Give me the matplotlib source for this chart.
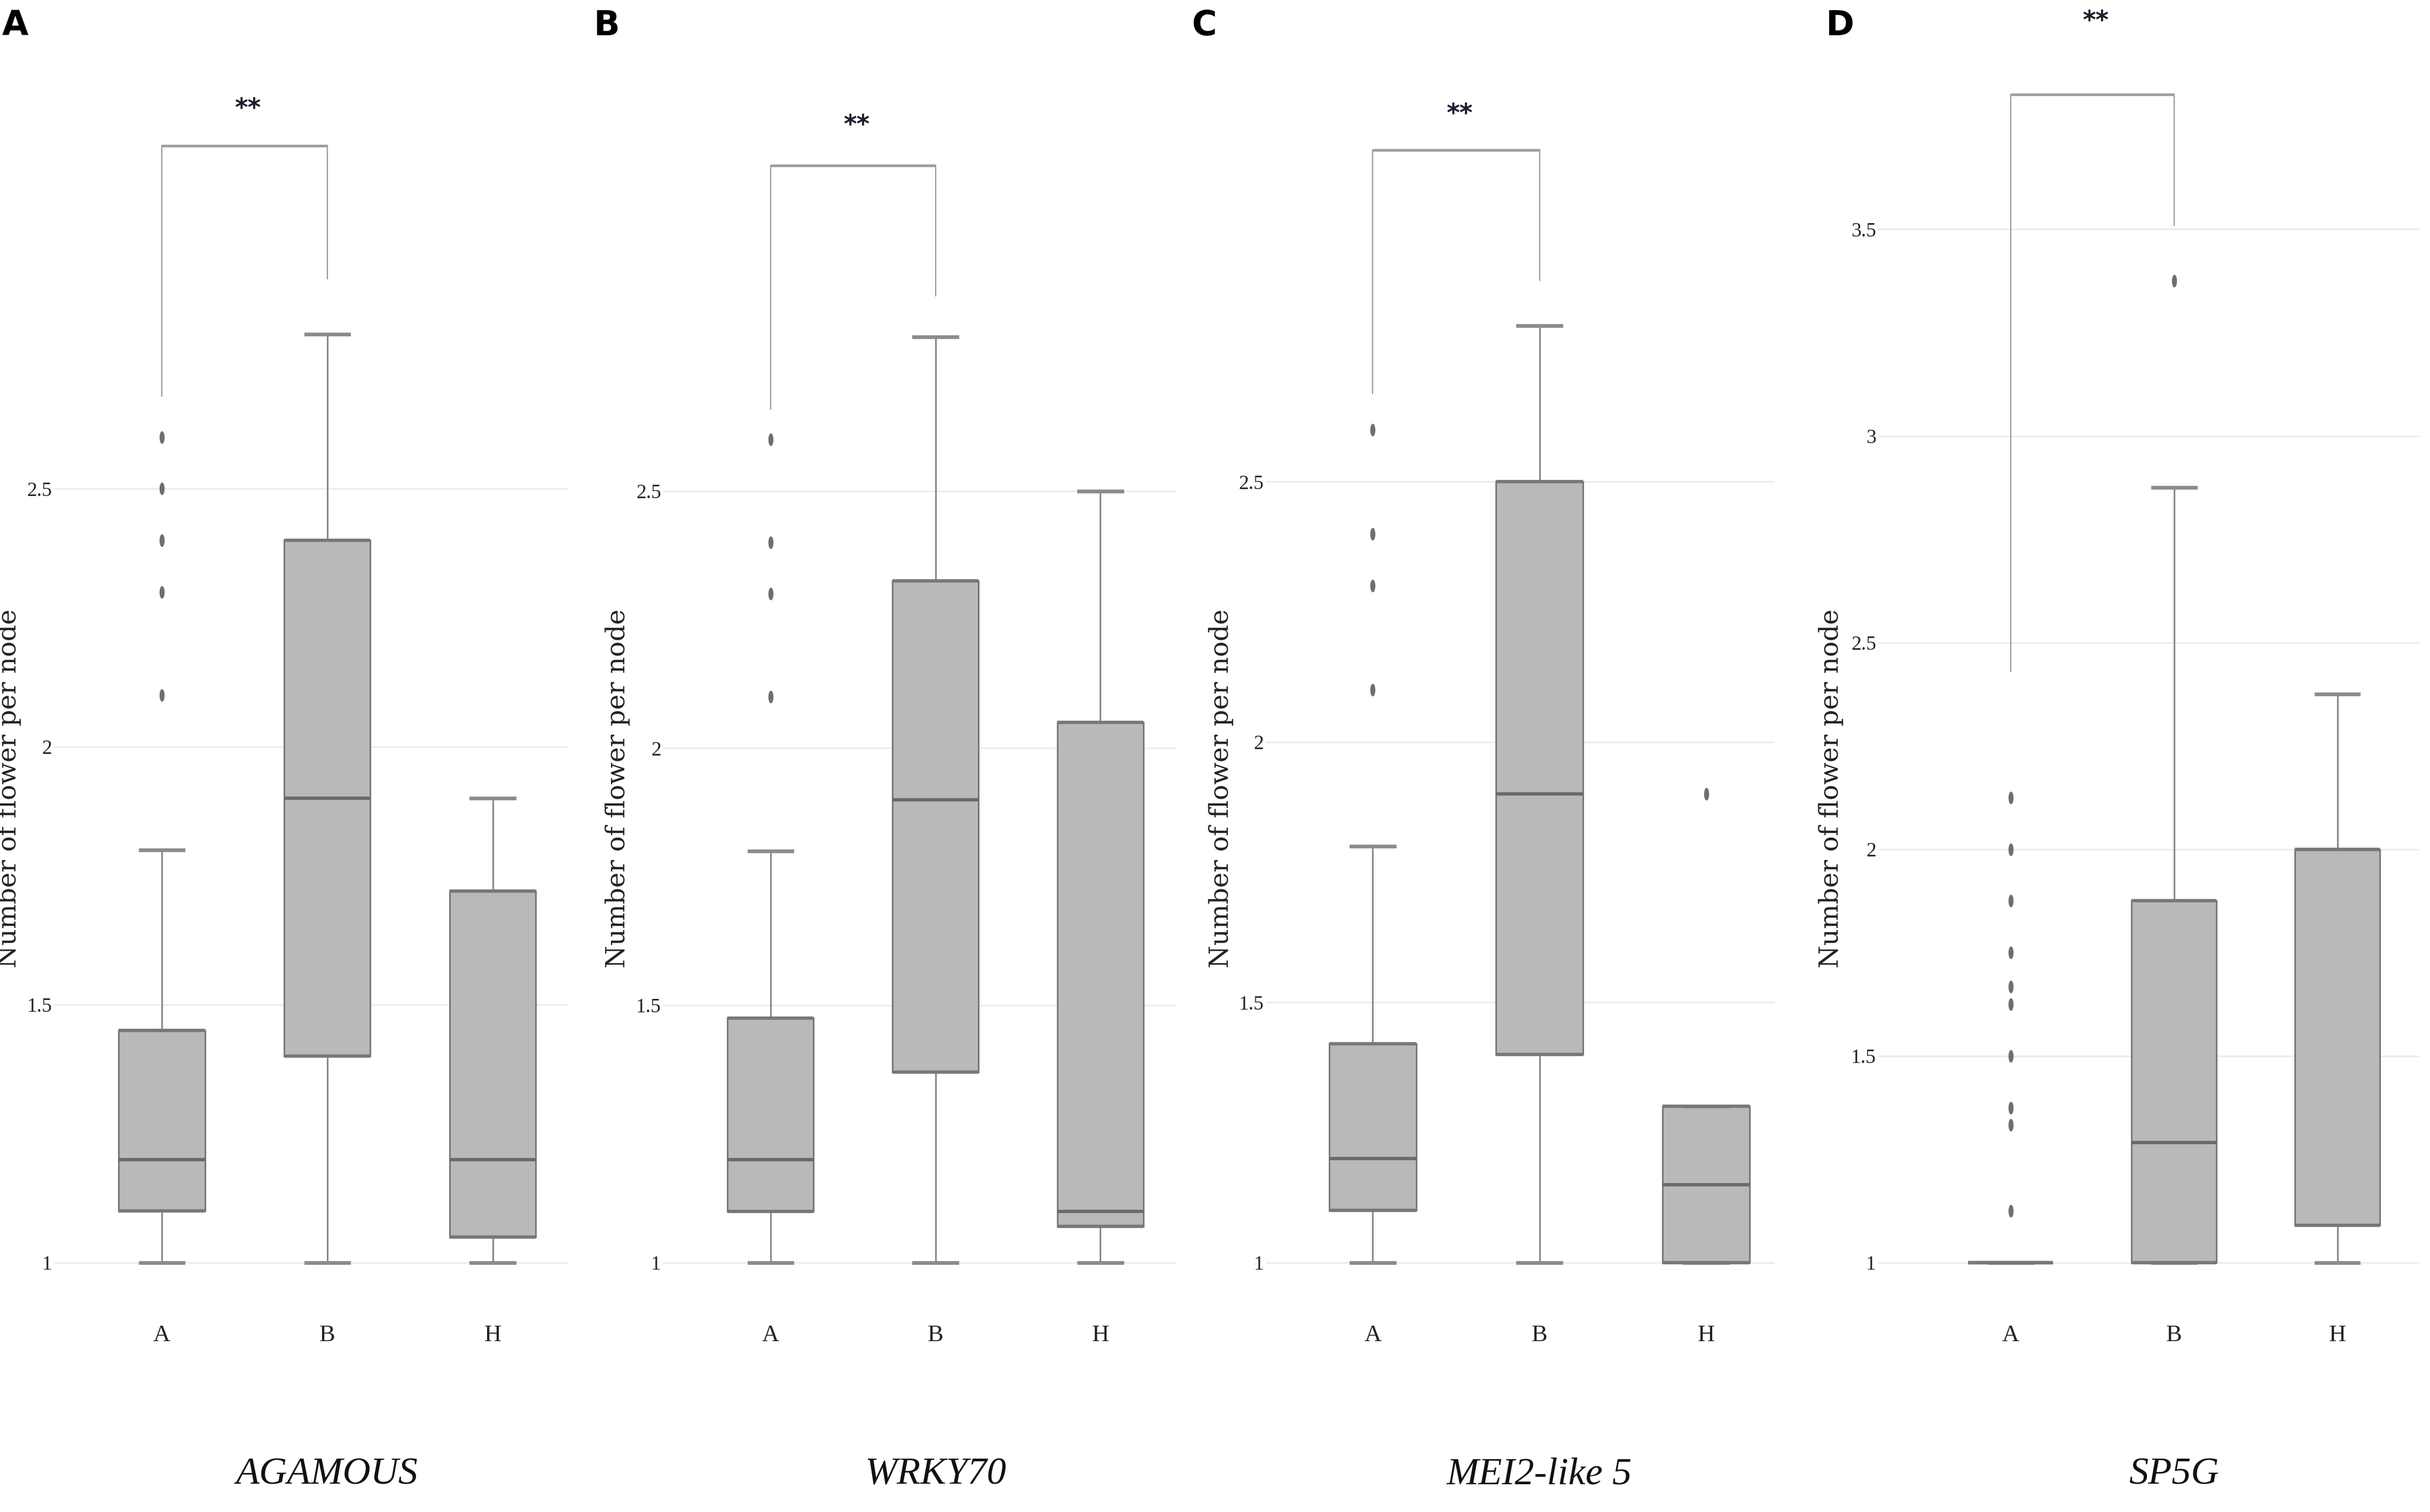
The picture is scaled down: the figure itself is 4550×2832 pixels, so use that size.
import numpy as np
import matplotlib
matplotlib.use("Agg")
import matplotlib.pyplot as plt
from matplotlib.path import Path
from matplotlib.transforms import Affine2D

# data (one row per gene, columns = genotype A, B, H)
genes = ["AGAMOUS", "WRKY70", "MEI2-like 5", "SP5G"]
groups = ["A", "B", "H"]
panel_tags = ["A", "B", "C", "D"]

whisker_low = [[1.0, 1.0, 1.0],
               [1.0, 1.0, 1.0],
               [1.0, 1.0, 1.0],
               [1.0, 1.0, 1.0]]
q1 = [[1.10, 1.40, 1.05],
      [1.10, 1.37, 1.07],
      [1.10, 1.40, 1.00],
      [1.00, 1.00, 1.09]]
median = [[1.20, 1.90, 1.20],
          [1.20, 1.90, 1.10],
          [1.20, 1.90, 1.15],
          [1.00, 1.29, 2.00]]
q3 = [[1.45, 2.40, 1.72],
      [1.475, 2.325, 2.05],
      [1.42, 2.50, 1.30],
      [1.00, 1.875, 2.00]]
whisker_high = [[1.80, 2.80, 1.90],
                [1.80, 2.80, 2.50],
                [1.80, 2.80, 1.30],
                [1.00, 2.875, 2.375]]
outliers = [[[2.1, 2.3, 2.4, 2.5, 2.6], [], []],
            [[2.1, 2.3, 2.4, 2.6], [], []],
            [[2.1, 2.3, 2.4, 2.6], [], [1.9]],
            [[1.125, 1.333, 1.375, 1.5, 1.625, 1.667, 1.75, 1.875, 2.0, 2.125], [3.375], []]]

yticks = [[1, 1.5, 2, 2.5],
          [1, 1.5, 2, 2.5],
          [1, 1.5, 2, 2.5],
          [1, 1.5, 2, 2.5, 3, 3.5]]
ytick_labels = [["1", "1.5", "2", "2.5"],
                ["1", "1.5", "2", "2.5"],
                ["1", "1.5", "2", "2.5"],
                ["1", "1.5", "2", "2.5", "3", "3.5"]]

# significance bracket A vs B
bracket_top = [3.165, 3.133, 3.137, 3.826]
bracket_left_end = [2.68, 2.66, 2.67, 2.43]
bracket_right_end = [2.907, 2.88, 2.887, 3.51]
star_y = [3.25, 3.225, 3.22, 4.02]
signif = "**"

# layout (pixels of a 1568 x 976 reference frame)
W, H = 1568.0, 976.0
ax_x = [(35, 366), (428, 759), (817, 1145), (1212, 1561)]
ax_top, ax_bot, tick1_y = 20, 835, 815
px_per_unit = [333, 332, 336, 266.8]
xlims = [(-0.65, 2.45), (-0.65, 2.46), (-0.64, 2.41), (-0.81, 2.5)]
tag_x = [1.4, 383, 769, 1178]

box_fill = "#b9b9b9"
box_edge = "#787878"
line_col = "#888888"
dot_col = "#6e6e6e"

# tall ellipse marker (the original figure is vertically stretched)
dot = Path.unit_circle().transformed(Affine2D().scale(0.4, 1.0))

fig = plt.figure(figsize=(45.5, 28.32), dpi=100)

for i, gene in enumerate(genes):
    x0, x1 = ax_x[i]
    ax = fig.add_axes([x0 / W, 1 - ax_bot / H, (x1 - x0) / W, (ax_bot - ax_top) / H])
    pos = np.arange(len(groups))

    stats = [dict(whislo=whisker_low[i][j], q1=q1[i][j], med=median[i][j],
                  q3=q3[i][j], whishi=whisker_high[i][j], fliers=outliers[i][j], label=g)
             for j, g in enumerate(groups)]
    ax.bxp(stats, positions=pos, widths=0.52, capwidths=0.26, patch_artist=True,
           boxprops=dict(facecolor=box_fill, edgecolor=box_edge, linewidth=2.2),
           medianprops=dict(color="#6a6a6a", linewidth=4.5),
           whiskerprops=dict(color=line_col, linewidth=2.2),
           capprops=dict(color="#8c8c8c", linewidth=5),
           flierprops=dict(marker=dot, markersize=17, markerfacecolor=dot_col,
                           markeredgecolor="none"),
           zorder=3)
    # top and bottom edges of the boxes look heavier in the original
    ax.hlines(q1[i], pos - 0.26, pos + 0.26, color=box_edge, linewidth=4.5, zorder=4)
    ax.hlines(q3[i], pos - 0.26, pos + 0.26, color=box_edge, linewidth=4.5, zorder=4)

    # significance bracket
    ax.plot([0, 0], [bracket_left_end[i], bracket_top[i]], color="#999999", lw=1.6, clip_on=False)
    ax.plot([1, 1], [bracket_right_end[i], bracket_top[i]], color="#999999", lw=1.6, clip_on=False)
    ax.plot([0, 1], [bracket_top[i], bracket_top[i]], color="#a0a0a0", lw=3.6,
            solid_capstyle="butt", clip_on=False)
    ax.annotate(signif, xy=(0.52, star_y[i]), xytext=(0, -19), textcoords="offset points",
                ha="center", va="baseline", fontsize=34, fontweight="bold",
                color="#1c1c2c", family="DejaVu Sans", annotation_clip=False)

    ax.set_xlim(xlims[i])
    k = px_per_unit[i]
    ax.set_ylim(1 - (ax_bot - tick1_y) / k, 1 + (tick1_y - ax_top) / k)
    ax.set_yticks(yticks[i])
    ax.set_yticklabels(ytick_labels[i], fontsize=27, family="Liberation Serif", color="#222222")
    ax.set_xticks(pos)
    ax.set_xticklabels(groups, fontsize=32, family="Liberation Serif", color="#222222")
    ax.tick_params(axis="both", length=0)
    ax.tick_params(axis="y", pad=3)
    ax.tick_params(axis="x", pad=42)
    ax.set_axisbelow(True)
    ax.yaxis.grid(True, color="#ececec", linewidth=2.2)
    for s in ax.spines.values():
        s.set_visible(False)

    ax.set_ylabel("Number of flower per node", fontsize=35, family="DejaVu Serif", color="#222222")
    ax.yaxis.set_label_coords(-0.064, 0.40)

    ax.text(1, (ax_bot - 952) / (ax_bot - ax_top), gene, transform=ax.get_xaxis_transform(),
            ha="center", va="center", fontsize=52, style="italic",
            family="Liberation Serif", color="#111111")

    fig.text(tag_x[i] / W, 1 - 6 / H, panel_tags[i], ha="left", va="top",
             fontsize=46, fontweight="bold", family="DejaVu Sans", color="black")

fig.savefig("out.png", dpi=100)
